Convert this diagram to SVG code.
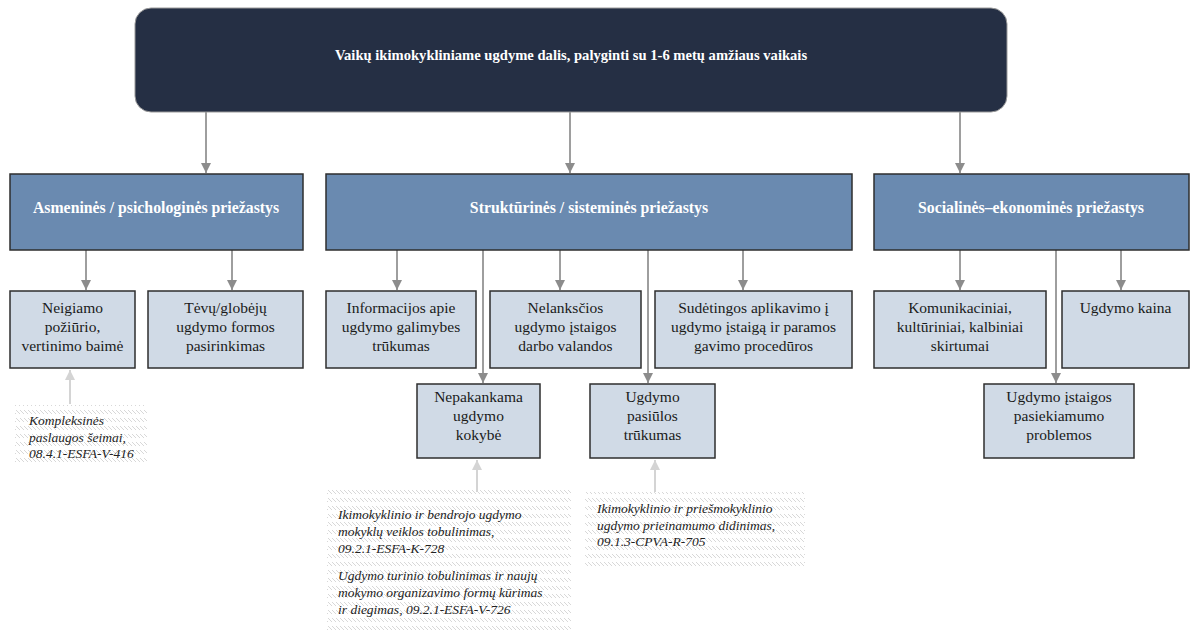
<svg xmlns="http://www.w3.org/2000/svg" width="1192" height="630" viewBox="0 0 1192 630">
<style>
.top{fill:#252f44;stroke:#9a9a9a;stroke-width:1}
.l1{fill:#6a8ab0;stroke:#2e2e2e;stroke-width:1.5}
.l2{fill:#d0dae6;stroke:#2e2e2e;stroke-width:1.5}
.tw{font-family:"Liberation Serif",serif;font-weight:bold;fill:#fff;text-anchor:middle}
.tb{font-family:"Liberation Serif",serif;font-size:15.5px;fill:#1a1a1a;text-anchor:middle}
.ti{font-family:"Liberation Serif",serif;font-style:italic;font-size:13.5px;fill:#222}
.ar{stroke:#9e9e9e;stroke-width:2;fill:none;marker-end:url(#ah)}
.la{stroke:#d4d4d4;stroke-width:2;fill:none;marker-end:url(#lh)}
.hatch{fill:url(#hp)}
</style>
<defs>
<marker id="ah" viewBox="0 0 10 10" refX="10" refY="5" markerWidth="5" markerHeight="5" orient="auto" markerUnits="strokeWidth">
<path d="M0,0 L10,5 L0,10 z" fill="#8c8c8c"/>
</marker>
<marker id="lh" viewBox="0 0 10 10" refX="10" refY="5" markerWidth="5" markerHeight="5" orient="auto" markerUnits="strokeWidth">
<path d="M0,0 L10,5 L0,10 z" fill="#d4d4d4"/>
</marker>
<pattern id="hp" width="4" height="8" patternUnits="userSpaceOnUse">
<line x1="0" y1="2" x2="4" y2="6" stroke="#d4d4d4" stroke-width="0.9"/>
</pattern>
</defs>

<g id="connectors">
<line class="ar" x1="206" y1="112" x2="206" y2="173"/>
<line class="ar" x1="570" y1="112" x2="570" y2="173"/>
<line class="ar" x1="960" y1="112" x2="960" y2="173"/>
<line class="ar" x1="86" y1="250" x2="86" y2="290"/>
<line class="ar" x1="232" y1="250" x2="232" y2="290"/>
<line class="ar" x1="397" y1="250" x2="397" y2="290"/>
<line class="ar" x1="483" y1="250" x2="483" y2="383"/>
<line class="ar" x1="560" y1="250" x2="560" y2="290"/>
<line class="ar" x1="648" y1="250" x2="648" y2="383"/>
<line class="ar" x1="743" y1="250" x2="743" y2="290"/>
<line class="ar" x1="960" y1="250" x2="960" y2="290"/>
<line class="ar" x1="1056" y1="250" x2="1056" y2="383"/>
<line class="ar" x1="1121" y1="250" x2="1121" y2="290"/>
<line class="la" x1="70" y1="404" x2="70" y2="370"/>
<line class="la" x1="477" y1="492" x2="477" y2="460"/>
<line class="la" x1="655" y1="492" x2="655" y2="460"/>
</g>

<g id="top">
<rect class="top" x="135" y="8" width="872" height="104" rx="16"/>
<text class="tw" x="571" y="60" font-size="14.6">Vaikų ikimokykliniame ugdyme dalis, palyginti su 1-6 metų amžiaus vaikais</text>
</g>

<g id="asmenines">
<rect class="l1" x="10" y="174" width="293" height="76"/>
<text class="tw" x="156" y="213" font-size="15.8">Asmeninės / psichologinės priežastys</text>
</g>
<g id="strukturines">
<rect class="l1" x="326" y="174" width="526" height="76"/>
<text class="tw" x="589" y="213" font-size="15.8">Struktūrinės / sisteminės priežastys</text>
</g>
<g id="socialines">
<rect class="l1" x="874" y="174" width="315" height="76"/>
<text class="tw" x="1031" y="213" font-size="15.8">Socialinės–ekonominės priežastys</text>
</g>

<g id="neigiamo">
<rect class="l2" x="10" y="291" width="125" height="77"/>
<text class="tb" x="72.5" y="313">Neigiamo</text>
<text class="tb" x="72.5" y="332">požiūrio,</text>
<text class="tb" x="72.5" y="351">vertinimo baimė</text>
</g>
<g id="tevu">
<rect class="l2" x="148" y="291" width="155" height="77"/>
<text class="tb" x="225.5" y="313">Tėvų/globėjų</text>
<text class="tb" x="225.5" y="332">ugdymo formos</text>
<text class="tb" x="225.5" y="351">pasirinkimas</text>
</g>
<g id="informacijos">
<rect class="l2" x="326" y="291" width="150" height="77"/>
<text class="tb" x="401" y="313">Informacijos apie</text>
<text class="tb" x="401" y="332">ugdymo galimybes</text>
<text class="tb" x="401" y="351">trūkumas</text>
</g>
<g id="nelanksčios">
<rect class="l2" x="490" y="291" width="151" height="77"/>
<text class="tb" x="565.5" y="313">Nelanksčios</text>
<text class="tb" x="565.5" y="332">ugdymo įstaigos</text>
<text class="tb" x="565.5" y="351">darbo valandos</text>
</g>
<g id="sudetingos">
<rect class="l2" x="655" y="291" width="197" height="77"/>
<text class="tb" x="753.5" y="313">Sudėtingos aplikavimo į</text>
<text class="tb" x="753.5" y="332">ugdymo įstaigą ir paramos</text>
<text class="tb" x="753.5" y="351">gavimo procedūros</text>
</g>
<g id="komunikaciniai">
<rect class="l2" x="874" y="291" width="172" height="77"/>
<text class="tb" x="960" y="313">Komunikaciniai,</text>
<text class="tb" x="960" y="332">kultūriniai, kalbiniai</text>
<text class="tb" x="960" y="351">skirtumai</text>
</g>
<g id="kaina">
<rect class="l2" x="1062" y="291" width="127" height="77"/>
<text class="tb" x="1125.5" y="313">Ugdymo kaina</text>
</g>

<g id="nepakankama">
<rect class="l2" x="417" y="384" width="123" height="74"/>
<text class="tb" x="478.5" y="402">Nepakankama</text>
<text class="tb" x="478.5" y="421">ugdymo</text>
<text class="tb" x="478.5" y="440">kokybė</text>
</g>
<g id="pasiulos">
<rect class="l2" x="590" y="384" width="125" height="74"/>
<text class="tb" x="652.5" y="402">Ugdymo</text>
<text class="tb" x="652.5" y="421">pasiūlos</text>
<text class="tb" x="652.5" y="440">trūkumas</text>
</g>
<g id="pasiekiamumo">
<rect class="l2" x="984" y="384" width="150" height="74"/>
<text class="tb" x="1059" y="402">Ugdymo įstaigos</text>
<text class="tb" x="1059" y="421">pasiekiamumo</text>
<text class="tb" x="1059" y="440">problemos</text>
</g>

<g id="note1">
<rect class="hatch" x="15" y="405" width="132" height="58"/>
<text class="ti" x="29" y="425">Kompleksinės</text>
<text class="ti" x="29" y="442">paslaugos šeimai,</text>
<text class="ti" x="29" y="458">08.4.1-ESFA-V-416</text>
</g>
<g id="note2">
<rect class="hatch" x="327" y="490" width="244" height="140"/>
<text class="ti" x="338" y="519">Ikimokyklinio ir bendrojo ugdymo</text>
<text class="ti" x="338" y="536">mokyklų veiklos tobulinimas,</text>
<text class="ti" x="338" y="553">09.2.1-ESFA-K-728</text>
<text class="ti" x="338" y="580">Ugdymo turinio tobulinimas ir naujų</text>
<text class="ti" x="338" y="597">mokymo organizavimo formų kūrimas</text>
<text class="ti" x="338" y="614">ir diegimas, 09.2.1-ESFA-V-726</text>
</g>
<g id="note3">
<rect class="hatch" x="585" y="492" width="220" height="78"/>
<text class="ti" x="597" y="513">Ikimokyklinio ir priešmokyklinio</text>
<text class="ti" x="597" y="530">ugdymo prieinamumo didinimas,</text>
<text class="ti" x="597" y="546">09.1.3-CPVA-R-705</text>
</g>
</svg>
